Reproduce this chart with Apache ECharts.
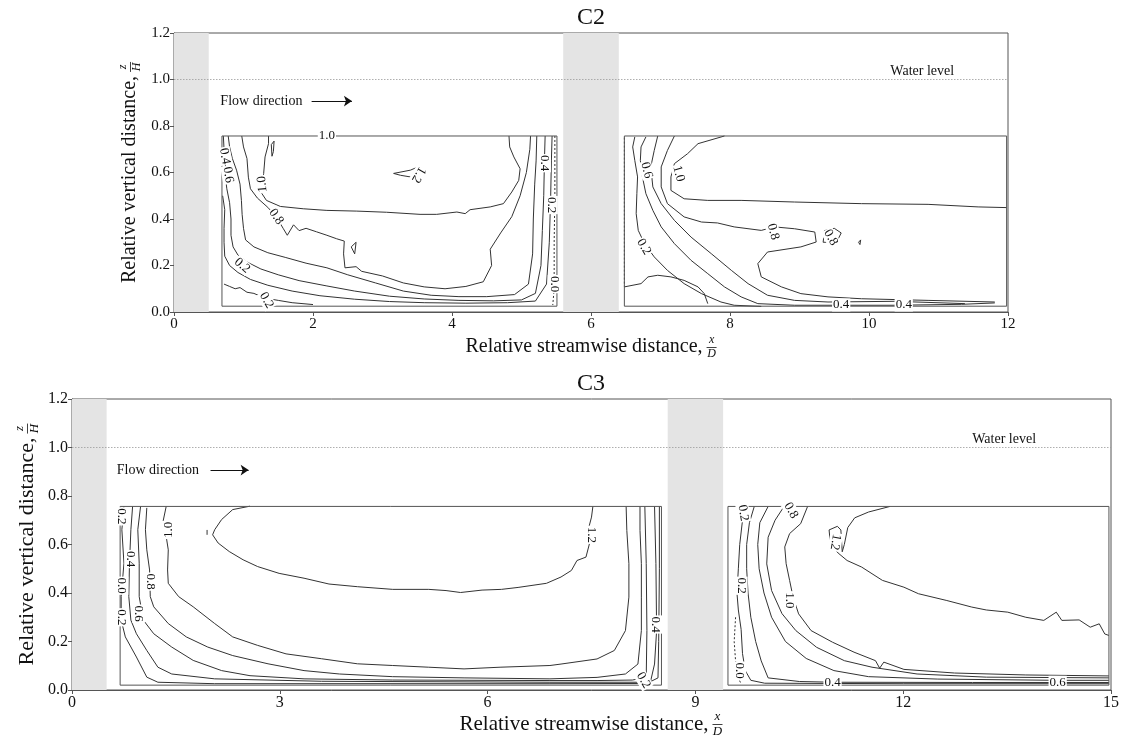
<!DOCTYPE html>
<html><head><meta charset="utf-8">
<script src="https://cdn.jsdelivr.net/npm/echarts/dist/echarts.min.js"></script>
<style>html,body{margin:0;padding:0;background:#fff}#c{width:1122px;height:742px}</style>
</head><body><div id="c"></div>
<script>
// ---------------- data ----------------
const waterLevel = 1.0;
// C2
const c2XRange = [0, 12];
const c2Piers = [[0, 0.5], [5.6, 6.4]];
const c2Windows = [[0.69, 0.025, 5.51, 0.757], [6.48, 0.025, 11.98, 0.757]];
const c2Flow = [0.66, 0.907, 1.98, 2.56];
const c2WaterText = [10.3, 1.035];
const c2Contours = [
  [[1.36,0.757],[1.36,0.724],[1.31,0.667],[1.29,0.595],[1.25,0.516],[1.33,0.48],[1.53,0.454],[1.86,0.444],[2.2,0.437],[2.63,0.434],[3.06,0.429],[3.54,0.42],[3.78,0.42],[4.07,0.43],[4.19,0.423],[4.26,0.44],[4.55,0.452],[4.74,0.466],[4.86,0.516],[4.96,0.566],[4.98,0.616],[4.89,0.667],[4.83,0.71],[4.82,0.757]],
  [[1.4,0.72],[1.44,0.735],[1.43,0.69],[1.41,0.67],[1.4,0.72]],
  [[3.16,0.596],[3.4,0.61],[3.52,0.625],[3.59,0.602],[3.5,0.552],[3.4,0.581],[3.26,0.588],[3.16,0.596]],
  [[0.975,0.757],[1.0,0.71],[1.05,0.66],[1.07,0.58],[1.10,0.53],[1.2,0.49],[1.35,0.45],[1.47,0.41],[1.57,0.36],[1.63,0.33],[1.72,0.375],[1.8,0.35],[1.9,0.36],[2.05,0.345],[2.2,0.33],[2.34,0.315],[2.45,0.305],[2.44,0.25],[2.46,0.19],[2.62,0.195],[2.7,0.175],[3.0,0.155],[3.3,0.125],[3.6,0.108],[3.9,0.1],[4.2,0.11],[4.45,0.13],[4.57,0.2],[4.55,0.27],[4.7,0.34],[4.86,0.41],[4.98,0.5],[5.07,0.6],[5.12,0.7],[5.13,0.757]],
  [[2.55,0.28],[2.62,0.3],[2.6,0.25],[2.55,0.28]],
  [[0.78,0.757],[0.80,0.71],[0.84,0.66],[0.90,0.61],[0.95,0.55],[0.97,0.48],[0.98,0.42],[1.0,0.36],[1.03,0.31],[1.15,0.28],[1.35,0.255],[1.6,0.235],[1.9,0.21],[2.2,0.19],[2.5,0.16],[2.9,0.125],[3.3,0.09],[3.7,0.072],[4.1,0.066],[4.5,0.066],[4.9,0.075],[5.1,0.12],[5.16,0.25],[5.17,0.4],[5.19,0.55],[5.21,0.65],[5.22,0.757]],
  [[0.71,0.757],[0.72,0.70],[0.74,0.64],[0.74,0.58],[0.76,0.53],[0.80,0.47],[0.82,0.40],[0.82,0.33],[0.85,0.28],[0.92,0.245],[1.05,0.215],[1.25,0.185],[1.5,0.16],[1.8,0.135],[2.2,0.112],[2.6,0.09],[3.1,0.068],[3.6,0.056],[4.1,0.05],[4.6,0.048],[5.0,0.052],[5.2,0.08],[5.28,0.2],[5.3,0.35],[5.32,0.5],[5.33,0.65],[5.34,0.757]],
  [[0.70,0.50],[0.73,0.44],[0.72,0.36],[0.72,0.3],[0.73,0.24],[0.8,0.2],[0.92,0.17],[1.1,0.14],[1.35,0.115],[1.7,0.09],[2.1,0.07],[2.6,0.055],[3.1,0.045],[3.6,0.04],[4.2,0.038],[4.8,0.04],[5.2,0.047],[5.36,0.12],[5.4,0.3],[5.42,0.5],[5.43,0.65],[5.44,0.757]],
  [[0.72,0.12],[0.8,0.11],[0.88,0.1],[0.95,0.105],[1.05,0.085],[1.15,0.08],[1.3,0.06],[1.5,0.05],[1.7,0.04],[2.0,0.032]],
  [[5.48,0.757],[5.48,0.5],[5.47,0.3],[5.47,0.1],[5.45,0.03]],
  [[6.48,0.75],[6.48,0.11]],
  [[6.48,0.108],[6.72,0.122],[6.82,0.151],[6.96,0.158],[7.15,0.151],[7.34,0.136],[7.54,0.108],[7.63,0.079],[7.68,0.036]],
  [[6.63,0.753],[6.60,0.71],[6.63,0.652],[6.67,0.581],[6.66,0.509],[6.65,0.423],[6.68,0.351],[6.77,0.294],[6.91,0.237],[7.10,0.179],[7.34,0.122],[7.59,0.079],[7.87,0.043],[8.06,0.029],[8.45,0.024]],
  [[6.79,0.753],[6.72,0.71],[6.71,0.652],[6.74,0.581],[6.79,0.509],[6.89,0.437],[7.01,0.366],[7.20,0.294],[7.44,0.222],[7.68,0.165],[7.92,0.108],[8.16,0.065],[8.40,0.036],[8.93,0.029],[9.41,0.029],[10.37,0.029],[11.33,0.033],[11.81,0.039]],
  [[6.96,0.757],[6.91,0.695],[6.86,0.624],[6.89,0.538],[7.01,0.466],[7.20,0.394],[7.44,0.322],[7.73,0.251],[8.02,0.179],[8.26,0.122],[8.54,0.072],[8.93,0.050],[9.41,0.043],[10.37,0.046],[11.38,0.036]],
  [[7.20,0.757],[7.10,0.695],[7.01,0.624],[7.01,0.538],[7.10,0.466],[7.34,0.409],[7.59,0.387],[7.82,0.383],[8.06,0.366],[8.45,0.351],[8.64,0.366],[8.93,0.358],[9.22,0.344],[9.24,0.301],[9.02,0.28],[8.54,0.258],[8.40,0.208],[8.45,0.151],[8.74,0.108],[9.02,0.079],[9.41,0.065],[9.89,0.057],[10.85,0.050],[11.81,0.043]],
  [[7.92,0.757],[7.54,0.724],[7.39,0.681],[7.20,0.638],[7.15,0.581],[7.15,0.523],[7.34,0.487],[7.68,0.480],[8.16,0.480],[8.93,0.473],[9.89,0.466],[10.85,0.463],[11.57,0.452],[11.98,0.449]],
  [[9.34,0.30],[9.36,0.35],[9.5,0.36],[9.6,0.34],[9.55,0.31],[9.45,0.3],[9.34,0.30]],
  [[9.85,0.30],[9.88,0.31],[9.87,0.29],[9.85,0.30]]
];
const c2Dashed = [9, 10];
const c2Labels = [
  ['1.0', 2.2, 0.757], ['0.4', 0.73, 0.67], ['0.6', 0.78, 0.59], ['1.0', 1.27, 0.55], ['0.8', 1.47, 0.41],
  ['0.2', 0.98, 0.2], ['0.4', 5.33, 0.64], ['0.2', 5.43, 0.46], ['0.0', 5.47, 0.12], ['1.2', 3.52, 0.59],
  ['0.2', 1.33, 0.05], ['0.6', 6.8, 0.61], ['1.0', 7.26, 0.595], ['0.2', 6.76, 0.28], ['0.8', 8.62, 0.345],
  ['0.8', 9.45, 0.32], ['0.4', 9.6, 0.03], ['0.4', 10.5, 0.03]
];
const c2LabelAngles = [0, -80, -80, 95, -55, -40, -90, -90, -90, -120, -60, -75, -75, -60, -75, -60, 0, 0];

// C3
const c3XRange = [0, 15];
const c3Piers = [[0, 0.5], [8.6, 9.4]];
const c3Windows = [[0.695, 0.02, 8.51, 0.757], [9.47, 0.02, 14.97, 0.757]];
const c3Flow = [0.64, 0.907, 2.0, 2.55];
const c3WaterText = [12.99, 1.034];
const c3Contours = [
  [[2.57,0.758],[2.32,0.744],[2.16,0.703],[2.06,0.661],[2.03,0.64],[2.11,0.606],[2.27,0.571],[2.47,0.537],[2.68,0.509],[2.99,0.481],[3.35,0.461],[3.71,0.437],[4.12,0.426],[4.63,0.415],[5.15,0.415],[5.4,0.41],[5.61,0.402],[5.92,0.412],[6.2,0.415],[6.44,0.423],[6.85,0.44],[7.06,0.466],[7.21,0.493],[7.29,0.534],[7.42,0.548],[7.47,0.603],[7.45,0.658],[7.5,0.713],[7.52,0.757]],
  [[1.95,0.66],[1.95,0.64]],
  [[1.36,0.757],[1.31,0.689],[1.36,0.633],[1.39,0.578],[1.38,0.495],[1.39,0.44],[1.54,0.385],[1.75,0.343],[2.06,0.274],[2.32,0.219],[2.68,0.184],[3.09,0.149],[3.6,0.129],[4.12,0.108],[4.63,0.101],[5.15,0.094],[5.66,0.087],[6.18,0.094],[6.9,0.101],[7.06,0.107],[7.58,0.128],[7.83,0.163],[7.99,0.245],[8.04,0.383],[8.04,0.521],[8.01,0.658],[8.0,0.757]],
  [[1.08,0.751],[1.06,0.661],[1.08,0.578],[1.12,0.495],[1.13,0.385],[1.18,0.343],[1.39,0.274],[1.65,0.219],[1.96,0.177],[2.32,0.142],[2.83,0.108],[3.35,0.08],[3.86,0.066],[4.63,0.055],[5.66,0.05],[6.9,0.046],[7.58,0.052],[7.99,0.066],[8.17,0.107],[8.22,0.245],[8.22,0.383],[8.22,0.521],[8.2,0.658],[8.2,0.757]],
  [[0.99,0.757],[0.95,0.661],[0.97,0.523],[0.97,0.385],[1.03,0.288],[1.18,0.232],[1.44,0.177],[1.75,0.122],[2.16,0.08],[2.57,0.059],[3.35,0.046],[4.63,0.041],[6.9,0.039],[7.58,0.039],[8.09,0.041],[8.29,0.052],[8.3,0.245],[8.29,0.521],[8.27,0.757]],
  [[0.875,0.757],[0.85,0.661],[0.83,0.523],[0.82,0.385],[0.85,0.288],[0.93,0.232],[1.08,0.163],[1.24,0.094],[1.44,0.066],[2.06,0.046],[3.6,0.036],[6.9,0.032],[8.35,0.032],[8.41,0.107],[8.44,0.245],[8.43,0.521],[8.41,0.757]],
  [[0.75,0.757],[0.72,0.661],[0.75,0.523],[0.71,0.385],[0.71,0.288],[0.77,0.219],[0.93,0.136],[1.08,0.053],[1.24,0.032],[2.06,0.026],[6.9,0.026],[8.3,0.027],[8.46,0.05],[8.47,0.2],[8.48,0.5],[8.48,0.757]],
  [[9.58,0.3],[9.56,0.2],[9.58,0.12],[9.62,0.05],[9.66,0.025]],
  [[9.72,0.757],[9.68,0.70],[9.64,0.6],[9.62,0.5],[9.6,0.4],[9.62,0.33],[9.66,0.25],[9.68,0.15],[9.72,0.08],[9.8,0.04],[10.0,0.028],[12,0.026],[14.97,0.026]],
  [[9.85,0.757],[9.78,0.69],[9.74,0.6],[9.74,0.5],[9.76,0.4],[9.8,0.3],[9.87,0.2],[9.95,0.12],[10.05,0.05],[10.5,0.035],[11,0.032],[13,0.031],[14.97,0.031]],
  [[10.05,0.757],[9.93,0.69],[9.9,0.6],[9.92,0.5],[9.99,0.4],[10.1,0.3],[10.3,0.2],[10.6,0.13],[11.0,0.08],[11.5,0.055],[12.5,0.045],[14.2,0.04],[14.97,0.04]],
  [[10.28,0.757],[10.15,0.7],[10.05,0.63],[10.03,0.52],[10.1,0.41],[10.25,0.315],[10.45,0.245],[10.75,0.176],[11.15,0.121],[11.55,0.094],[12.2,0.066],[13.2,0.053],[14.97,0.05]],
  [[10.62,0.757],[10.52,0.686],[10.36,0.645],[10.29,0.59],[10.31,0.521],[10.36,0.452],[10.41,0.383],[10.49,0.314],[10.67,0.245],[10.98,0.197],[11.29,0.156],[11.6,0.121],[11.66,0.09],[11.72,0.115],[12.01,0.085],[12.74,0.07],[13.77,0.062],[14.97,0.058]],
  [[11.81,0.757],[11.5,0.734],[11.3,0.71],[11.2,0.67],[11.15,0.6],[11.12,0.57],[11.1,0.66],[11.05,0.675],[10.93,0.66],[10.95,0.6],[11.06,0.565],[11.19,0.534],[11.4,0.507],[11.7,0.452],[12.01,0.424],[12.22,0.397],[12.63,0.369],[12.99,0.342],[13.2,0.33],[13.51,0.321],[13.77,0.3],[14.03,0.287],[14.21,0.321],[14.29,0.287],[14.54,0.289],[14.7,0.259],[14.83,0.273],[14.91,0.231],[14.97,0.225]]
];
const c3Dashed = [7];
const c3Labels = [
  ['0.2', 0.72, 0.716], ['0.4', 0.85, 0.54], ['0.0', 0.72, 0.43], ['0.8', 1.13, 0.447], ['0.6', 0.96, 0.315],
  ['0.2', 0.72, 0.30], ['1.0', 1.39, 0.66], ['1.2', 7.5, 0.64], ['0.4', 8.43, 0.27], ['0.2', 8.25, 0.04],
  ['0.2', 9.69, 0.73], ['0.8', 10.38, 0.74], ['0.2', 9.66, 0.43], ['1.0', 10.36, 0.37], ['1.2', 11.02, 0.61],
  ['0.0', 9.64, 0.08], ['0.4', 10.98, 0.032], ['0.6', 14.23, 0.032]
];
const c3LabelAngles = [-90, -90, -90, -90, -90, -90, 90, -90, -90, -60, -80, -60, -90, -90, -100, -90, 0, 0];

// ---------------- chart ----------------
const FONT = 'Liberation Serif';
const INK = '#111';
const LINE = '#333';

function plotSeries(gi, xr, piers, windows, contours, dashed, labels, angles, flow, waterText) {
  const s = [];
  s.push({
    type: 'line', xAxisIndex: gi, yAxisIndex: gi, z: 1, silent: true, symbol: 'none',
    data: [[xr[0], waterLevel], [xr[1], waterLevel]],
    lineStyle: { color: '#9a9a9a', width: 0.8, type: [1.5, 1.5] },
    markArea: { silent: true, itemStyle: { color: '#e4e4e4' },
      data: piers.map(p => [{ xAxis: p[0] }, { xAxis: p[1] }]) }
  });
  windows.forEach(w => s.push({
    type: 'line', xAxisIndex: gi, yAxisIndex: gi, z: 3, silent: true, symbol: 'none',
    data: [[w[0], w[1]], [w[2], w[1]], [w[2], w[3]], [w[0], w[3]], [w[0], w[1]]],
    lineStyle: { color: '#555', width: 1 }
  }));
  contours.forEach((c, i) => s.push({
    type: 'line', xAxisIndex: gi, yAxisIndex: gi, z: 2, silent: true, symbol: 'none',
    data: c, lineStyle: { color: LINE, width: 1, type: dashed.includes(i) ? [2, 2] : 'solid' }
  }));
  s.push({
    type: 'scatter', xAxisIndex: gi, yAxisIndex: gi, z: 5, silent: true, symbolSize: 1,
    itemStyle: { color: 'rgba(0,0,0,0)', opacity: 1 },
    data: labels.map((l, i) => ({ value: [l[1], l[2]], label: { formatter: l[0], rotate: angles[i] } })),
    label: { show: true, position: 'inside', fontFamily: FONT, fontSize: 13, color: INK, opacity: 1,
      backgroundColor: '#fff', padding: [0, 1] }
  });
  s.push({
    type: 'scatter', xAxisIndex: gi, yAxisIndex: gi, z: 5, silent: true, symbolSize: 1,
    itemStyle: { color: 'rgba(0,0,0,0)', opacity: 1 },
    data: [[flow[0], flow[1], 'Flow direction'], [waterText[0], waterText[1], 'Water level']],
    label: { show: true, position: 'right', distance: 0, fontFamily: FONT, fontSize: 14, color: INK, opacity: 1,
      formatter: p => p.data[2] },
    markLine: { silent: true, symbol: ['none', 'arrow'], symbolSize: 8,
      label: { show: false }, lineStyle: { color: INK, width: 1, type: 'solid', opacity: 1 },
      data: [[{ coord: [flow[2], flow[1]] }, { coord: [flow[3], flow[1]] }]] }
  });
  return s;
}

function axisX(gi, xr, step, fs) {
  return { gridIndex: gi, type: 'value', min: xr[0], max: xr[1], interval: step,
    axisLine: { show: true, lineStyle: { color: '#555' } },
    axisTick: { show: true, length: 4, lineStyle: { color: '#555' } },
    axisLabel: { fontFamily: FONT, fontSize: fs, color: INK, margin: 5 },
    splitLine: { show: false } };
}
function axisY(gi, fs) {
  return { gridIndex: gi, type: 'value', min: 0, max: 1.2, interval: 0.2,
    axisLine: { show: true, lineStyle: { color: '#555' } },
    axisTick: { show: true, length: 4, lineStyle: { color: '#555' } },
    axisLabel: { fontFamily: FONT, fontSize: fs, color: INK, margin: 4, formatter: v => v.toFixed(1) },
    splitLine: { show: false } };
}

const meas = document.createElement('canvas').getContext('2d');
function textW(t, fs) { meas.font = fs + 'px "' + FONT + '"'; return meas.measureText(t).width; }
function fracLabel(cx, cy, rot, text, num, den, fs, ffs) {
  const w = textW(text, fs);
  const fw = 10;
  const total = w + 4 + fw;
  const x0 = -total / 2;
  const fx = x0 + w + 4 + fw / 2;
  return { type: 'group', x: cx, y: cy, rotation: rot, silent: true, children: [
    { type: 'text', x: x0, y: 0, style: { text, x: 0, y: 0, font: fs + 'px "' + FONT + '"', fill: INK,
      textAlign: 'left', textVerticalAlign: 'middle', align: 'left', verticalAlign: 'middle' } },
    { type: 'text', x: fx, y: -1, style: { text: num, font: 'italic ' + ffs + 'px "' + FONT + '"', fill: INK,
      textAlign: 'center', textVerticalAlign: 'bottom', align: 'center', verticalAlign: 'bottom' } },
    { type: 'line', shape: { x1: fx - 5, y1: 0.5, x2: fx + 5, y2: 0.5 }, style: { stroke: INK, lineWidth: 0.8 } },
    { type: 'text', x: fx, y: 1, style: { text: den, font: 'italic ' + ffs + 'px "' + FONT + '"', fill: INK,
      textAlign: 'center', textVerticalAlign: 'top', align: 'center', verticalAlign: 'top' } }
  ] };
}
function titleText(cx, cy, t) {
  return { type: 'text', x: cx, y: cy, silent: true, style: { text: t, font: '24px "' + FONT + '"', fill: INK,
    textAlign: 'center', textVerticalAlign: 'middle', align: 'center', verticalAlign: 'middle' } };
}

const option = {
  animation: false,
  backgroundColor: '#fff',
  grid: [
    { left: 174, top: 33, width: 834, height: 279, show: true, borderColor: '#555', borderWidth: 1 },
    { left: 72, top: 399, width: 1039, height: 291, show: true, borderColor: '#555', borderWidth: 1 }
  ],
  xAxis: [axisX(0, c2XRange, 2, 15), axisX(1, c3XRange, 3, 16)],
  yAxis: [axisY(0, 15), axisY(1, 16)],
  series: [].concat(
    plotSeries(0, c2XRange, c2Piers, c2Windows, c2Contours, c2Dashed, c2Labels, c2LabelAngles, c2Flow, c2WaterText),
    plotSeries(1, c3XRange, c3Piers, c3Windows, c3Contours, c3Dashed, c3Labels, c3LabelAngles, c3Flow, c3WaterText)
  ),
  graphic: [
    titleText(591, 18, 'C2'),
    titleText(591, 384, 'C3'),
    fracLabel(591, 347, 0, 'Relative streamwise distance,', 'x', 'D', 20, 12),
    fracLabel(130, 172.5, Math.PI / 2, 'Relative vertical distance,', 'z', 'H', 20, 12),
    fracLabel(591, 724, 0, 'Relative streamwise distance,', 'x', 'D', 21, 13),
    fracLabel(27, 544.5, Math.PI / 2, 'Relative vertical distance,', 'z', 'H', 22, 13)
  ]
};
echarts.init(document.getElementById('c')).setOption(option);
</script></body></html>
